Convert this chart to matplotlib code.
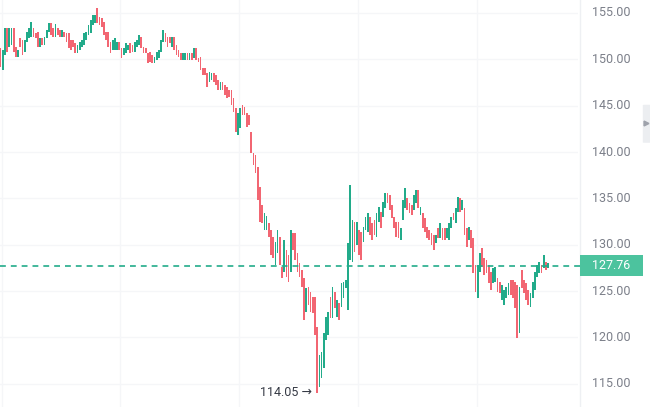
import numpy as np
import matplotlib.pyplot as plt
from matplotlib.patches import Rectangle, FancyBboxPatch

# candle ranges (price units), oldest first
highs = [
    151.22, 151.01, 153.38, 153.38, 153.38, 153.38, 153.38, 151.33, 151.01, 152.30,
    152.09, 152.09, 152.95, 153.38, 154.03, 153.38, 152.84, 152.95, 152.30, 152.30,
    152.41, 153.17, 153.92, 153.92, 153.38, 153.81, 153.38, 153.17, 153.17, 152.95,
    152.84, 152.84, 152.09, 152.09, 151.76, 151.55, 151.87, 152.09, 152.84, 152.95,
    153.71, 154.24, 154.78, 154.78, 155.54, 154.57, 154.46, 154.03, 152.95, 152.95,
    151.87, 152.09, 152.30, 151.87, 151.87, 151.22, 151.22, 151.76, 151.55, 151.76,
    151.55, 151.87, 152.09, 152.63, 152.41, 151.33, 151.22, 150.69, 150.79, 150.47,
    150.25, 150.79, 151.01, 152.09, 153.17, 152.84, 152.41, 152.41, 152.41, 152.41,
    151.55, 151.01, 150.69, 150.69, 150.69, 150.69, 150.69, 150.69, 151.22, 151.22,
    150.15, 150.25, 149.07, 149.07, 148.53, 148.64, 148.53, 148.53, 148.31, 147.77,
    147.56, 147.56, 147.23, 147.02, 146.69, 146.69, 145.83, 144.75, 144.21, 144.75,
    145.08, 144.86, 144.21, 144.00, 142.16, 139.90, 139.68, 138.38, 136.23, 134.29,
    133.42, 133.10, 132.35, 131.59, 130.84, 130.30, 131.59, 130.84, 127.60, 130.51,
    129.44, 128.90, 131.59, 131.27, 131.27, 129.11, 128.03, 127.28, 126.41, 125.33,
    125.44, 124.90, 124.36, 124.36, 121.13, 118.11, 118.43, 120.48, 122.21, 122.75,
    124.36, 125.44, 124.90, 124.04, 123.72, 125.87, 125.98, 126.20, 130.19, 136.44,
    132.67, 132.45, 132.45, 131.59, 131.37, 131.91, 132.99, 133.42, 132.99, 132.35,
    132.67, 133.42, 134.07, 133.53, 134.61, 135.58, 135.58, 135.37, 134.29, 132.99,
    132.45, 132.45, 131.80, 134.83, 136.12, 135.04, 134.50, 134.29, 135.37, 135.91,
    135.91, 134.07, 133.42, 132.88, 131.91, 131.59, 131.27, 131.05, 131.05, 131.80,
    132.35, 131.80, 131.80, 131.80, 132.35, 132.99, 133.42, 133.96, 135.15, 135.04,
    134.83, 133.96, 131.80, 131.91, 131.59, 130.73, 127.82, 127.82, 129.11, 129.65,
    128.57, 128.36, 127.82, 127.06, 127.49, 127.60, 126.41, 125.98, 125.66, 125.12,
    125.44, 125.87, 126.20, 126.20, 125.98, 125.66, 125.44, 127.28, 126.20, 125.87,
    125.12, 124.80, 125.98, 127.06, 127.82, 128.14, 127.82, 128.90, 128.14, 128.03,
]
lows = [
    149.17, 148.85, 150.47, 150.79, 151.33, 151.55, 150.79, 150.25, 150.25, 151.33,
    150.47, 150.79, 151.87, 152.30, 152.41, 152.41, 152.30, 151.33, 151.33, 151.55,
    151.55, 152.30, 152.95, 152.63, 152.41, 152.41, 152.63, 152.41, 152.41, 152.41,
    151.87, 151.22, 151.01, 151.33, 150.69, 150.69, 151.01, 151.33, 151.55, 152.09,
    152.63, 152.84, 153.71, 153.92, 153.92, 153.71, 153.49, 152.63, 152.09, 151.33,
    150.69, 151.01, 151.01, 151.01, 151.01, 150.15, 150.47, 150.69, 151.01, 150.69,
    150.79, 150.79, 151.33, 151.55, 151.22, 150.69, 150.69, 149.61, 149.71, 149.61,
    149.61, 149.93, 150.15, 150.79, 151.87, 151.87, 151.33, 151.76, 151.33, 151.01,
    150.47, 150.25, 149.93, 149.93, 149.93, 149.93, 149.93, 149.93, 150.15, 149.93,
    149.71, 148.85, 148.31, 148.31, 147.02, 147.56, 147.77, 147.56, 147.23, 146.69,
    146.69, 146.69, 146.15, 145.83, 145.94, 145.08, 144.32, 142.16, 141.84, 142.59,
    144.00, 144.00, 142.70, 142.92, 139.90, 138.60, 137.74, 134.83, 132.45, 132.35,
    131.59, 131.59, 130.84, 128.90, 128.57, 127.82, 129.11, 127.82, 126.41, 127.06,
    126.52, 125.98, 127.06, 129.44, 128.36, 127.06, 126.52, 125.44, 121.88, 122.75,
    123.50, 122.75, 122.64, 120.26, 114.05, 114.66, 115.63, 116.70, 119.69, 120.26,
    122.10, 122.10, 123.18, 122.21, 121.88, 123.28, 124.26, 125.33, 122.96, 128.36,
    128.14, 129.22, 129.97, 128.90, 128.36, 130.30, 131.59, 131.37, 131.05, 130.51,
    131.05, 130.84, 132.45, 131.80, 132.99, 133.96, 134.50, 133.75, 132.88, 131.80,
    130.84, 130.73, 130.51, 132.67, 133.96, 133.75, 133.42, 133.21, 133.75, 134.50,
    133.96, 133.21, 131.80, 131.37, 130.73, 130.51, 129.97, 129.44, 130.19, 130.73,
    130.73, 130.51, 130.51, 130.73, 130.51, 131.80, 132.67, 132.35, 133.53, 133.53,
    133.75, 131.05, 129.76, 130.51, 129.65, 126.95, 124.90, 124.26, 127.06, 127.60,
    126.74, 126.95, 125.87, 125.12, 125.87, 125.98, 124.90, 124.80, 124.04, 123.50,
    124.26, 124.58, 124.58, 124.26, 123.18, 119.94, 120.48, 125.33, 124.80, 124.04,
    123.50, 123.28, 124.26, 125.12, 126.52, 126.95, 126.95, 127.49, 127.28, 127.49,
]
# G = up candle, R = down candle
direction = (
    "RGGRGGRRGR" "RGGGGRRRGR" "GGGRRGRRGR" "RRRRRGGGGG" "GGGGRRRRRR"
    "RGGGRRGGGR" "RGGGRRRRRR" "GGGGGRRRGR" "RRRGGRGRGR" "RRRRRGGRRR"
    "GRRRRRRRGG" "RRRRRRRRRR" "GGRRRGGRRG" "RRGRRRRRRG" "RRRRRGGGGG"
    "RGRGRGGGGG" "GRGRRGGGRR" "RGGRGGRRRR" "RRGGGRRRGG" "RGRRRRRRGR"
    "GRRGGGRGGR" "GRRGRRRGGR" "RRRRGGRRGG" "GGRRRRGRRR" "RGGGGGRGRG"
)
last_price = 127.76
low_price = 114.05
price_ticks = [115, 120, 125, 130, 135, 140, 145, 150, 155]
session_breaks = [0.5, 54.5, 108.5, 162.5, 216.5]

up_color = '#22ab8a'
down_color = '#f26672'
grid_color = '#f5f6f8'
text_color = '#7b7f89'
fonts = ['Roboto', 'DejaVu Sans']

fig = plt.figure(figsize=(6.5, 4.07), dpi=100, facecolor='white')
ax = fig.add_axes([0, 0, 578 / 650, 1])
scale = fig.add_axes([578 / 650, 0, 72 / 650, 1])

ylim = (112.5, 156.4)
ax.set_xlim(-0.23, 262.6)
ax.set_ylim(*ylim)
scale.set_xlim(0, 1)
scale.set_ylim(*ylim)

for p in price_ticks:
    ax.axhline(p, color=grid_color, lw=1, zorder=0)
for b in session_breaks:
    ax.axvline(b, color=grid_color, lw=1, zorder=0)

x = np.arange(len(highs))
hi = np.array(highs)
lo = np.array(lows)
colors = [up_color if d == 'G' else down_color for d in direction]
ax.bar(x, hi - lo, bottom=lo, width=0.78, color=colors, linewidth=0, zorder=2)

ax.axhline(last_price, color=up_color, lw=1.2, ls=(0, (3.5, 3)), zorder=3)

i_low = int(np.argmin(lo))
ax.text(i_low - 2.5, low_price, "114.05 \u2192", ha='right', va='center',
        fontsize=9, color='#363a45', family=fonts)

ax.set_xticks([])
ax.set_yticks([])
for s in ax.spines.values():
    s.set_visible(False)

# price scale
scale.axis('off')
scale.axvline(0.03, color='#eef0f3', lw=1)
for p in price_ticks:
    scale.text(0.2, p, f"{p:.2f}", ha='left', va='center', fontsize=9,
               color=text_color, family=fonts)
scale.axhline(last_price, xmin=0, xmax=0.05, color=up_color, lw=1.2)
scale.add_patch(Rectangle((0.03, last_price - 1.13), 0.87, 2.27,
                          facecolor='#4cc39e', edgecolor='none', zorder=3))
scale.text(0.2, last_price, f"{last_price:.2f}", ha='left', va='center',
           fontsize=9, color='white', family=fonts, zorder=4)

# collapse tab on the right edge
scale.add_patch(FancyBboxPatch((0.9, 141.0), 0.12, 4.1,
                               boxstyle='round,pad=0,rounding_size=0.03',
                               facecolor='#eceef1', edgecolor='none'))
scale.plot([0.945], [143.1], marker='>', ms=3.5, color='#9ea2ab')

fig.savefig('out.png', dpi=100, facecolor='white')
